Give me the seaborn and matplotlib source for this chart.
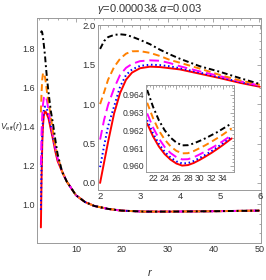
import numpy as np
import pandas as pd
import seaborn as sns
import matplotlib.pyplot as plt
from matplotlib.ticker import MultipleLocator, FixedLocator, FormatStrFormatter

# curves: red (solid), blue (dotted), magenta (long dash), orange (dash), black (dash-dot)
NAMES = ["red", "blue", "magenta", "orange", "black"]
COLORS = {"red": "#ff0000", "blue": "#0000ff", "magenta": "#ff00ff",
          "orange": "#ff8000", "black": "#000000"}
STYLES = {"red": "-", "blue": (0, (0.8, 1.4)), "magenta": (0, (5, 2.5)),
          "orange": (0, (3.5, 2)), "black": (0, (3, 1.5, 1, 1.5))}

# near region (inset 1), r from 2 to 6
r_near = [2.0, 2.1, 2.2, 2.35, 2.5, 2.65, 2.8, 3.0, 3.25, 3.5, 3.75, 4.0, 4.5, 5.0, 5.5, 6.0]
v_near = {
    "black":   [1.70, 1.80, 1.85, 1.878, 1.886, 1.878, 1.855, 1.815, 1.76, 1.69, 1.63, 1.575, 1.48, 1.41, 1.33, 1.255],
    "orange":  [1.00, 1.15, 1.31, 1.47, 1.575, 1.64, 1.67, 1.672, 1.65, 1.61, 1.56, 1.525, 1.45, 1.37, 1.30, 1.245],
    "magenta": [0.55, 0.80, 0.99, 1.20, 1.37, 1.46, 1.51, 1.545, 1.555, 1.55, 1.52, 1.48, 1.415, 1.355, 1.29, 1.235],
    "blue":    [0.20, 0.47, 0.72, 0.97, 1.22, 1.37, 1.44, 1.485, 1.50, 1.495, 1.48, 1.455, 1.40, 1.34, 1.28, 1.23],
    "red":     [0.00, 0.26, 0.52, 0.88, 1.14, 1.31, 1.40, 1.455, 1.475, 1.47, 1.455, 1.44, 1.385, 1.33, 1.27, 1.22],
}

# far region (main plot), all curves overlap here
r_tail = [7, 8, 10, 12, 14, 17, 20, 25, 30, 35, 40, 45, 50]
v_tail = [1.165, 1.115, 1.045, 1.01, 0.99, 0.975, 0.966, 0.961, 0.961, 0.962, 0.963, 0.9645, 0.966]

# minimum region (inset 2)
r_min = [21, 22, 23, 24, 25, 26, 27, 28, 29, 30, 31, 32, 33, 34, 35, 35.5]
v_min = {
    "black":   [0.96428, 0.96334, 0.96258, 0.96201, 0.96160, 0.96132, 0.96116, 0.96117,
                0.96127, 0.96141, 0.96156, 0.96173, 0.96190, 0.96210, 0.96230, 0.96240],
    "orange":  [0.96356, 0.96270, 0.96200, 0.96149, 0.96111, 0.96085, 0.96071, 0.96072,
                0.96084, 0.96100, 0.96117, 0.96136, 0.96156, 0.96177, 0.96200, 0.96212],
    "magenta": [0.96296, 0.96217, 0.96155, 0.96107, 0.96073, 0.96050, 0.96037, 0.96038,
                0.96049, 0.96065, 0.96082, 0.96100, 0.96119, 0.96140, 0.96163, 0.96174],
    "blue":    [0.96258, 0.96184, 0.96125, 0.96080, 0.96048, 0.96026, 0.96014, 0.96016,
                0.96028, 0.96045, 0.96063, 0.96083, 0.96105, 0.96128, 0.96153, 0.96165],
    "red":     [0.96239, 0.96167, 0.96110, 0.96067, 0.96036, 0.96014, 0.96002, 0.96005,
                0.96017, 0.96034, 0.96053, 0.96073, 0.96095, 0.96118, 0.96143, 0.96155],
}

sns.set_style("white")
plt.rcParams['font.family'] = ['Liberation Sans', 'DejaVu Sans']
plt.rcParams['mathtext.fontset'] = 'custom'
plt.rcParams['mathtext.rm'] = 'Liberation Sans'
plt.rcParams['mathtext.it'] = 'Liberation Sans:italic'

FRAME = "#9a9a9a"
TXT = "#333333"
W, H = 266, 280
fig = plt.figure(figsize=(W / 100, H / 100), dpi=100)


def box(l, t, r, b):
    return [l / W, 1 - b / H, (r - l) / W, (b - t) / H]


def style_axes(ax, fs=7.0):
    for s in ax.spines.values():
        s.set_color(FRAME)
        s.set_linewidth(0.7)
    ax.tick_params(which="both", direction="in", top=True, right=True,
                   color=FRAME, width=0.6, labelsize=fs, labelcolor=TXT, pad=1.5)
    ax.tick_params(which="major", length=3)
    ax.tick_params(which="minor", length=1.5)
    ax.set_xlabel("")
    ax.set_ylabel("")


def draw(ax, data):
    for name in NAMES:
        x, y = data[name]
        df = pd.DataFrame({"r": x, "V": y})
        sns.lineplot(data=df, x="r", y="V", ax=ax, color=COLORS[name],
                     linestyle=STYLES[name], linewidth=1.4, sort=False,
                     estimator=None, errorbar=None, legend=False)


# main plot
ax = fig.add_axes(box(37, 18, 261, 243))
main_data = {n: (r_near[3:] + r_tail, v_near[n][3:] + v_tail) for n in NAMES}
draw(ax, main_data)
ax.set_xlim(1.5, 50.4)
ax.set_ylim(0.8, 1.954)
ax.xaxis.set_major_locator(MultipleLocator(10))
ax.xaxis.set_minor_locator(MultipleLocator(2))
ax.yaxis.set_major_locator(FixedLocator([1.0, 1.2, 1.4, 1.6, 1.8]))
ax.yaxis.set_minor_locator(MultipleLocator(0.05))
ax.yaxis.set_major_formatter(FormatStrFormatter("%.1f"))
style_axes(ax, fs=6.5)

# inset 1
ax1 = fig.add_axes(box(97.7, 24.5, 261, 190))
ax1.set_facecolor("white")
draw(ax1, {n: (r_near, v_near[n]) for n in NAMES})
ax1.set_xlim(1.94, 6.03)
ax1.set_ylim(-0.09, 2.01)
ax1.xaxis.set_major_locator(MultipleLocator(1))
ax1.xaxis.set_minor_locator(MultipleLocator(0.2))
ax1.yaxis.set_major_locator(MultipleLocator(0.5))
ax1.yaxis.set_minor_locator(MultipleLocator(0.1))
ax1.yaxis.set_major_formatter(FormatStrFormatter("%.1f"))
style_axes(ax1, fs=6.8)

# inset 2
ax2 = fig.add_axes(box(146, 85, 234, 172))
ax2.set_facecolor("white")
draw(ax2, {n: (r_min, v_min[n]) for n in NAMES})
ax2.set_xlim(20.8, 35.9)
ax2.set_ylim(0.95966, 0.96456)
ax2.xaxis.set_major_locator(MultipleLocator(2))
ax2.xaxis.set_minor_locator(MultipleLocator(0.5))
ax2.yaxis.set_major_locator(MultipleLocator(0.001))
ax2.yaxis.set_minor_locator(MultipleLocator(0.0002))
ax2.yaxis.set_major_formatter(FormatStrFormatter("%.3f"))
style_axes(ax2, fs=6.2)

fig.text(150 / W, 1 - 9 / H, r"$\gamma$=0.00003& $\alpha$=0.003",
         ha="center", va="center", fontsize=8, color=TXT)
fig.text(0.5 / W, 1 - 127 / H, r"$V_{\rm eff}(r)$", ha="left", va="center",
         fontsize=6.2, color=TXT)
fig.text(150 / W, 1 - 272 / H, r"$r$", ha="center", va="center",
         fontsize=8, color=TXT)

fig.savefig("out.png", dpi=100)
